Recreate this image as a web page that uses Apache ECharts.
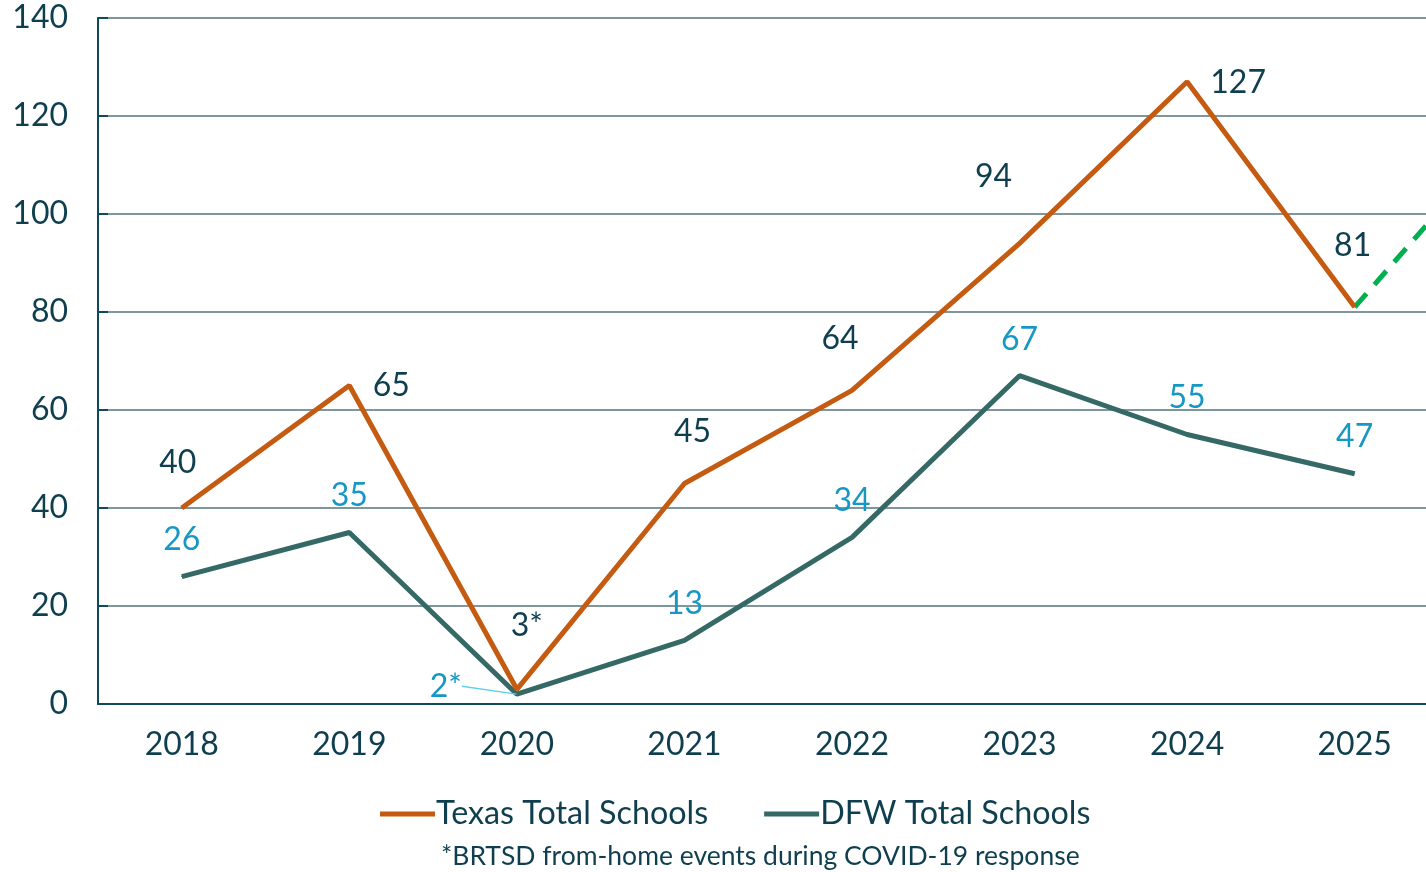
<html>
<head>
<meta charset="utf-8">
<title>Schools</title>
<script src="https://cdn.jsdelivr.net/npm/echarts@6/dist/echarts.min.js"></script>
<style>
html, body { margin: 0; overflow: hidden; }
</style>
</head>
<body>
<!-- wider than the window: the 2026 end of the dashed projection falls off the right edge -->
<div id="main" style="width:1606px;height:872px;"></div>
<script type="text/javascript">
var years = ['2018', '2019', '2020', '2021', '2022', '2023', '2024', '2025', '2026'];
var texas = [40, 65, 3, 45, 64, 94, 127, 81];
var dfw = [26, 35, 2, 13, 34, 67, 55, 47];
var projection = [null, null, null, null, null, null, null, 81, 120];
var texasText = ['40', '65', '3*', '45', '64', '94', '127', '81'];
var dfwText = ['26', '35', '2*', '13', '34', '67', '55', '47'];
var yTicks = [0, 20, 40, 60, 80, 100, 120, 140];

// label offsets from each point
var texasOff = [[-4, -45], [42, 0], [10, -64], [8, -52], [-12, -52], [-26, -67], [51, 1], [-2, -61]];
var dfwOff = [[0, -37], [0, -37], [-71, -8], [0, -37], [0, -37], [0, -36], [0, -37], [0, -37]];

var dark = '#0f3f4f';
var blue = '#1797c3';

var myChart = echarts.init(document.getElementById('main'));

function items(vals, texts, offs) {
    return vals.map(function (v, i) {
        var lab = { formatter: texts[i] };
        if (offs) lab.offset = offs[i];
        return { value: v, label: lab };
    });
}

var dfwData = items(dfw, dfwText, null);
dfwData[2].labelLine = { show: true, lineStyle: { color: '#5fd0f0', width: 1.5 } };

var option = {
    animation: false,
    textStyle: { fontFamily: 'Lato' },
    title: {
        text: '*BRTSD from-home events during COVID-19 response',
        left: 441,
        bottom: 0,
        padding: [0, 0, 2, 0],
        textStyle: { fontFamily: 'Lato', fontSize: 26.5, fontWeight: 'normal', color: dark }
    },
    legend: {
        bottom: 37,
        left: 375,
        itemWidth: 55,
        itemHeight: 5,
        itemGap: 56,
        icon: 'rect',
        data: ['Texas Total Schools', 'DFW Total Schools'],
        textStyle: { fontFamily: 'Lato', fontSize: 32.3, color: dark, padding: [0, 0, 0, -4] }
    },
    grid: { left: 98, right: 0, top: 18, bottom: 168 },
    xAxis: {
        type: 'category',
        data: years,
        axisLine: { lineStyle: { color: '#0e4a5a', width: 2 } },
        axisTick: { show: false },
        axisLabel: {
            fontFamily: 'Lato', fontSize: 32, color: dark, margin: 25,
            formatter: function (v) { return v === '2026' ? '' : v; }
        }
    },
    yAxis: {
        type: 'value',
        min: 0,
        max: 140,
        interval: 20,
        axisLine: { show: true, lineStyle: { color: '#0e4a5a', width: 2 } },
        axisTick: { show: true, inside: true, length: 10, lineStyle: { color: '#0e4a5a', width: 2 } },
        axisLabel: { fontFamily: 'Lato', fontSize: 32, color: dark, margin: 30 },
        splitLine: { lineStyle: { color: '#7d979d', width: 2 } }
    },
    series: [
        {
            name: 'Texas Total Schools',
            type: 'line',
            data: items(texas, texasText, texasOff),
            symbol: 'circle',
            symbolSize: 1,
            color: '#c55a11',
            lineStyle: { width: 5, color: '#c55a11' },
            label: { show: true, position: 'inside', fontFamily: 'Lato', fontSize: 32, color: dark },
            z: 3
        },
        {
            name: 'DFW Total Schools',
            type: 'line',
            data: dfwData,
            symbol: 'circle',
            symbolSize: 1,
            color: '#356966',
            lineStyle: { width: 5, color: '#356966' },
            label: { show: true, position: 'inside', fontFamily: 'Lato', fontSize: 32, color: blue },
            labelLayout: function (p) {
                var o = dfwOff[p.dataIndex];
                return { dx: o[0], dy: o[1] };
            },
            z: 2
        },
        {
            name: 'Projection',
            type: 'line',
            data: projection,
            symbol: 'none',
            lineStyle: { width: 5, color: '#00b050', type: [18, 12] },
            z: 1
        }
    ]
};

myChart.setOption(option);
</script>
</body>
</html>
